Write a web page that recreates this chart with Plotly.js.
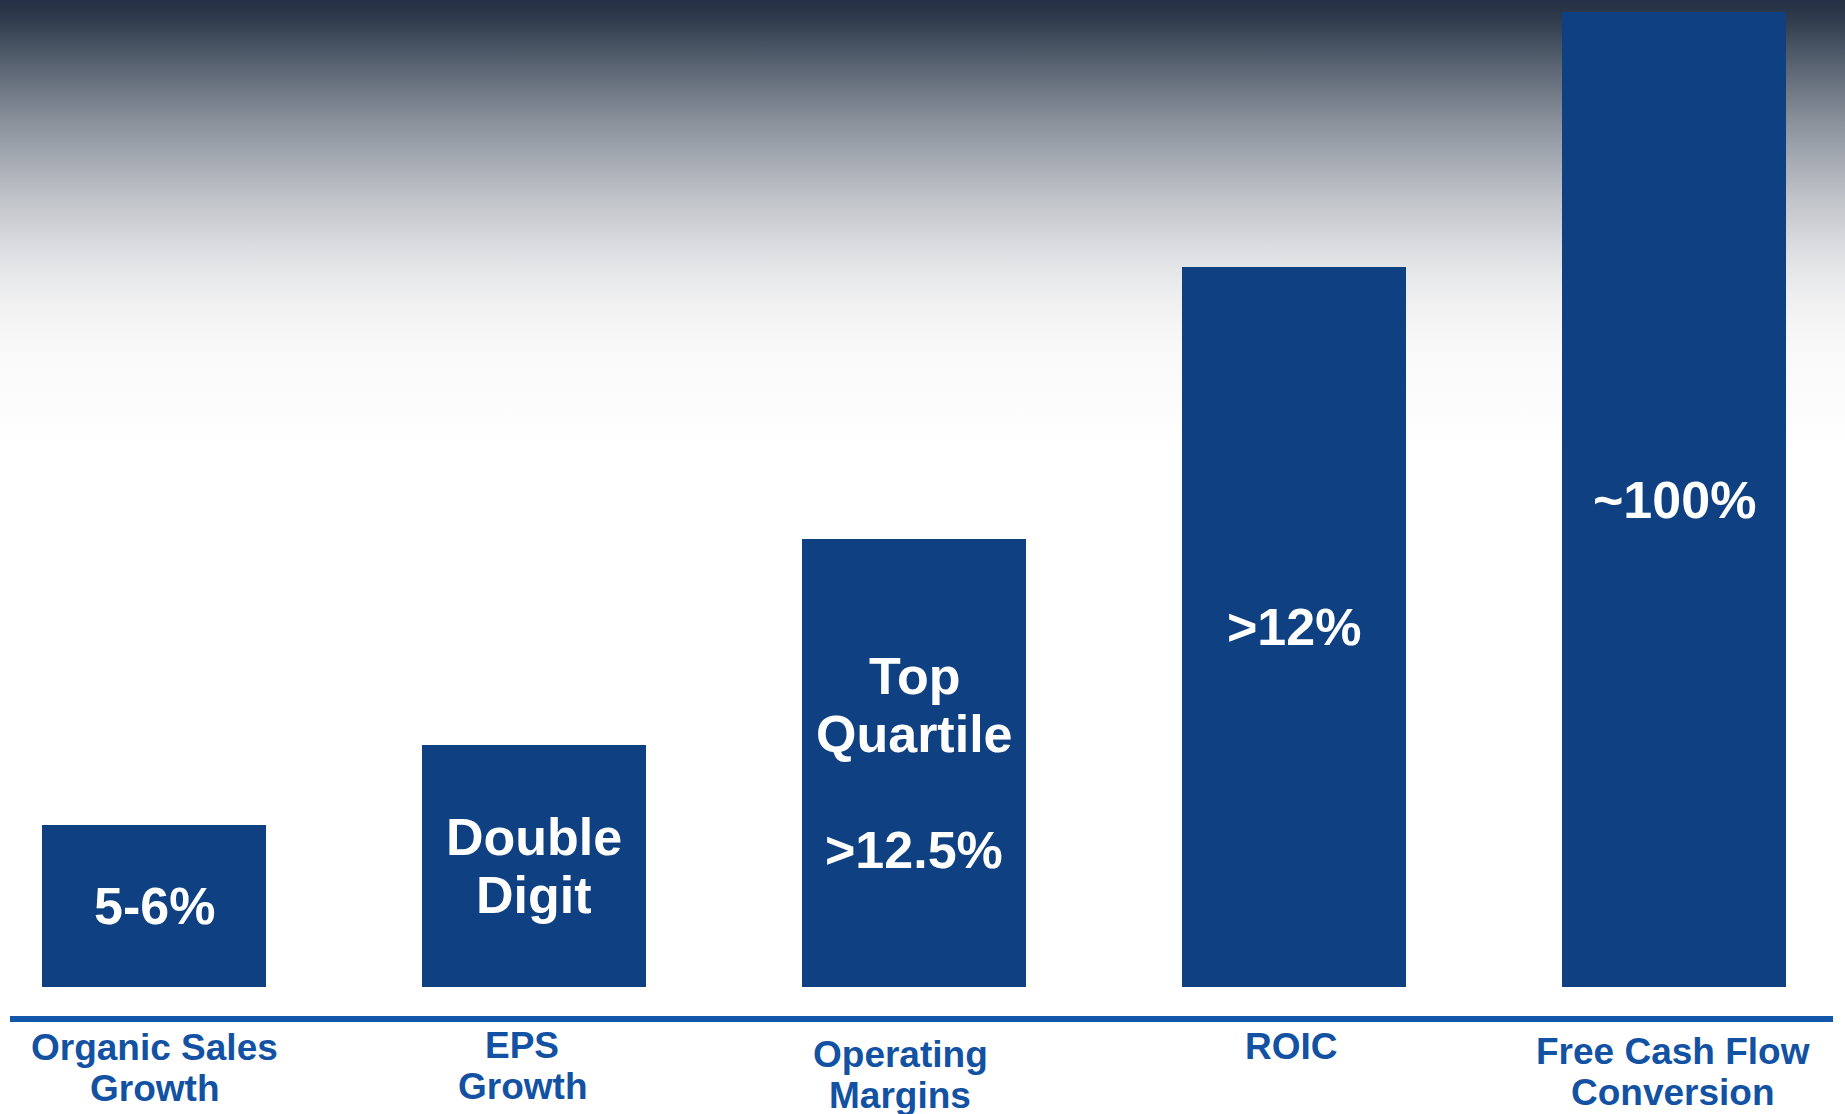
<!DOCTYPE html>
<html>
<head>
<meta charset="utf-8">
<script src="https://cdn.plot.ly/plotly-3.0.1.min.js"></script>
<style>
html, body { margin: 0; padding: 0; width: 1845px; height: 1114px; overflow: hidden; background: #ffffff; }
#chart {
  width: 1845px; height: 1114px;
  background: linear-gradient(to bottom,
    #243043 0px, #344050 25px, #4b5766 50px, #626b79 75px, #78808b 100px,
    #8c939d 125px, #9ea4ad 150px, #b0b4bc 175px, #c1c4c9 200px, #cfd1d5 225px,
    #dcdee1 250px, #e7e8ea 275px, #f0f0f1 300px, #f5f5f6 325px, #f9f9f9 350px,
    #fcfcfc 400px, #ffffff 450px, #ffffff 1114px);
}
</style>
</head>
<body>
<div id="chart"></div>
<script>
// ---- data ----
const categories = ["Organic Sales Growth", "EPS Growth", "Operating Margins", "ROIC", "Free Cash Flow Conversion"];
const categoryLines = [["Organic Sales", "Growth"], ["EPS", "Growth"], ["Operating", "Margins"], ["ROIC"], ["Free Cash Flow", "Conversion"]];
const barHeights = [16.2, 24.2, 44.8, 72.0, 97.5];
const barTextLines = [["5-6%"], ["Double", "Digit"], ["Top", "Quartile", "", ">12.5%"], [">12%"], ["~100%"]];

// ---- layout tweaks ----
const FONT = "Liberation Sans, Arial, Helvetica, sans-serif";
const barColor = "#0f4081";
const labelColor = "#1352a2";
const axisColor = "#1257a9";
const barLineSpacing = 57.7;
const labelLineSpacing = 41;
const labelFirstLineY = [1047, 1045, 1054, 1046, 1051]; // pixel centre of first label line
const labelXShift = [0, -12, -14, -3, -1];
const axisPixel = 1019;

const annotations = [];
barTextLines.forEach((lines, i) => {
  const n = lines.length;
  lines.forEach((t, k) => {
    if (!t) return;
    annotations.push({
      x: categories[i], y: barHeights[i] / 2, xref: "x", yref: "y",
      text: t, showarrow: false, xanchor: "center", yanchor: "middle",
      yshift: -(k - (n - 1) / 2) * barLineSpacing,
      font: { family: FONT, size: 52, color: "#ffffff", weight: 700 }
    });
  });
});
categoryLines.forEach((lines, i) => {
  lines.forEach((t, k) => {
    annotations.push({
      x: categories[i], y: 0, xref: "x", yref: "paper",
      text: t, showarrow: false, xanchor: "center", yanchor: "middle",
      xshift: labelXShift[i],
      yshift: -(labelFirstLineY[i] - axisPixel) - k * labelLineSpacing,
      font: { family: FONT, size: 37, color: labelColor, weight: 700 }
    });
  });
});

const trace = {
  type: "bar",
  x: categories,
  y: barHeights,
  width: 0.5895,
  marker: { color: barColor, line: { width: 0 } },
  hoverinfo: "skip",
  cliponaxis: false
};

const layout = {
  width: 1845, height: 1114,
  margin: { l: 10, r: 12, t: 0, b: 1114 - axisPixel, pad: 0 },
  paper_bgcolor: "rgba(0,0,0,0)",
  plot_bgcolor: "rgba(0,0,0,0)",
  showlegend: false,
  xaxis: {
    type: "category",
    range: [(10 - 154) / 380, (1833 - 154) / 380],
    showticklabels: false, showgrid: false, zeroline: false, showline: false, ticks: ""
  },
  yaxis: {
    range: [-3.2, 98.7],
    showticklabels: false, showgrid: false, zeroline: false, showline: false, ticks: ""
  },
  shapes: [{
    type: "line", xref: "paper", yref: "paper",
    x0: 0, x1: 1, y0: 0, y1: 0,
    line: { color: axisColor, width: 6 }
  }],
  annotations: annotations,
  font: { family: FONT }
};

Plotly.newPlot("chart", [trace], layout, { staticPlot: true, displayModeBar: false });
</script>
</body>
</html>
